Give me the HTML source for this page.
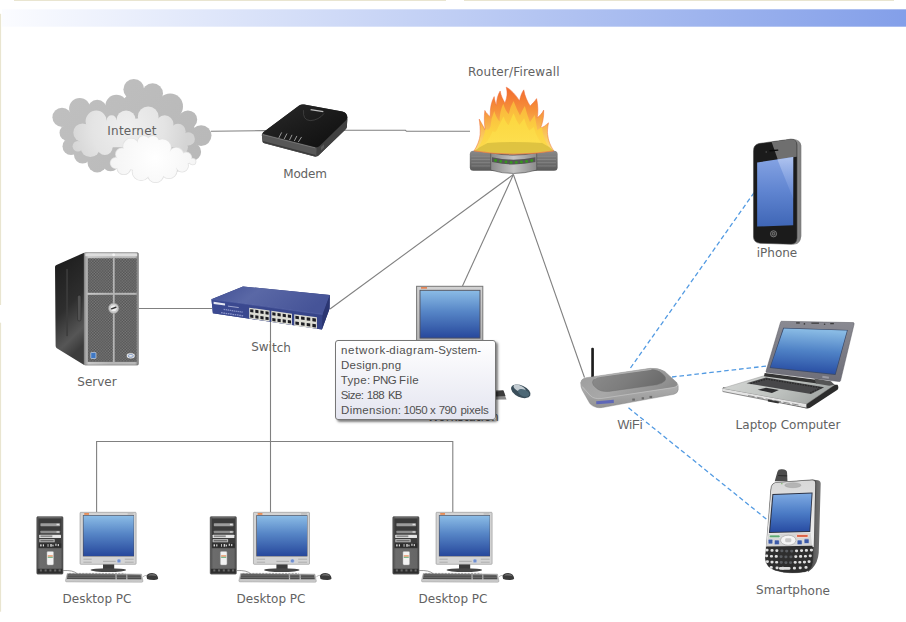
<!DOCTYPE html>
<html lang="en">
<head>
<meta charset="utf-8">
<title>Network Diagram</title>
<style>
html,body{margin:0;padding:0;background:#fff;}
body{width:906px;height:622px;overflow:hidden;position:relative;font-family:"DejaVu Sans","Liberation Sans",sans-serif;}
#stage{position:absolute;left:0;top:0;width:906px;height:622px;overflow:hidden;background:#fff;}
svg{position:absolute;left:0;top:0;}
.lbl{position:absolute;font-size:12px;line-height:14px;height:14px;color:#626262;white-space:nowrap;transform:translateX(-50%);text-align:center;}
#tip{position:absolute;left:335px;top:340px;width:159px;height:78px;border:1px solid #767676;border-radius:3px;background:linear-gradient(#ffffff,#e4e5f0);box-shadow:2px 2px 2.5px rgba(0,0,0,.5);font-family:"Liberation Sans",sans-serif;font-size:11.5px;color:#505050;}
#tip div{position:absolute;left:0;white-space:nowrap;line-height:15px;height:15px;width:159px;}
#tip span{white-space:nowrap;}
</style>
</head>
<body>
<div id="stage">
<svg id="art" width="906" height="622" viewBox="0 0 906 622" style="filter:blur(0.4px)">
<defs>
<linearGradient id="bar" x1="0" x2="1" y1="0" y2="0"><stop offset="0" stop-color="#fbfcff"/><stop offset="1" stop-color="#839fe9"/></linearGradient>
<g id="cloudF"><circle cx="115.9" cy="163.0" r="5.3"/><circle cx="121.9" cy="154.2" r="6.0"/><circle cx="131.1" cy="146.5" r="7.9"/><circle cx="143.7" cy="141.9" r="6.0"/><circle cx="153.0" cy="141.9" r="6.0"/><circle cx="162.3" cy="147.8" r="8.6"/><circle cx="176.2" cy="155.1" r="7.3"/><circle cx="186.1" cy="157.7" r="5.3"/><circle cx="192.7" cy="161.6" r="2.9"/><circle cx="182.1" cy="165.7" r="6.0"/><circle cx="168.9" cy="170.3" r="7.9"/><circle cx="155.6" cy="174.3" r="7.9"/><circle cx="141.1" cy="171.7" r="8.6"/><circle cx="123.8" cy="167.7" r="6.6"/><polygon points="115.9,163.0 121.9,154.2 131.1,146.5 143.7,141.9 153.0,141.9 162.3,147.8 176.2,155.1 186.1,157.7 192.7,161.6 182.1,165.7 168.9,170.3 155.6,174.3 141.1,171.7 123.8,167.7"/></g>
<radialGradient id="clMid" gradientUnits="userSpaceOnUse" cx="128" cy="128" r="60"><stop offset="0" stop-color="#efefef"/><stop offset="0.6" stop-color="#e4e4e4"/><stop offset="1" stop-color="#d4d4d4"/></radialGradient>
<radialGradient id="clFr" gradientUnits="userSpaceOnUse" cx="155" cy="158" r="50"><stop offset="0" stop-color="#ffffff"/><stop offset="1" stop-color="#f3f3f3"/></radialGradient>
<linearGradient id="clBk" gradientUnits="userSpaceOnUse" x1="50" y1="80" x2="210" y2="180"><stop offset="0" stop-color="#c0c0c0"/><stop offset="1" stop-color="#b8b8b8"/></linearGradient>
<linearGradient id="mdTop" x1="0" y1="0" x2="1" y2="1"><stop offset="0" stop-color="#2a2a2a"/><stop offset="0.5" stop-color="#1b1b1b"/><stop offset="1" stop-color="#0e0e0e"/></linearGradient>
<linearGradient id="mdFr" x1="0" y1="0" x2="0" y2="1"><stop offset="0" stop-color="#757575"/><stop offset="0.35" stop-color="#5a5a5a"/><stop offset="1" stop-color="#444"/></linearGradient>
<linearGradient id="flA" x1="0" y1="0" x2="0" y2="1"><stop offset="0" stop-color="#f26a2e"/><stop offset="0.35" stop-color="#f6923a"/><stop offset="0.6" stop-color="#f9b850"/><stop offset="0.8" stop-color="#fbd166"/><stop offset="1" stop-color="#fce080"/></linearGradient>
<linearGradient id="flB" x1="0" y1="0" x2="0" y2="1"><stop offset="0" stop-color="#f9b13a"/><stop offset="0.6" stop-color="#fcd342"/><stop offset="1" stop-color="#fddc50"/></linearGradient>
<linearGradient id="flC" x1="0" y1="0" x2="0" y2="1"><stop offset="0" stop-color="#fcd63e"/><stop offset="1" stop-color="#fde152"/></linearGradient>
<linearGradient id="rtSide" x1="0" y1="0" x2="0" y2="1"><stop offset="0" stop-color="#8a8a8a"/><stop offset="0.5" stop-color="#707070"/><stop offset="1" stop-color="#5a5a5a"/></linearGradient>
<linearGradient id="rtMid" x1="0" y1="0" x2="1" y2="0"><stop offset="0" stop-color="#8a8a8a"/><stop offset="0.5" stop-color="#c4c4c4"/><stop offset="1" stop-color="#8a8a8a"/></linearGradient>
<linearGradient id="ipScr" x1="0" y1="0" x2="0" y2="1"><stop offset="0" stop-color="#86a4e4"/><stop offset="0.5" stop-color="#5f84d0"/><stop offset="1" stop-color="#3f66b6"/></linearGradient>
<linearGradient id="ipSide" x1="0" y1="0" x2="1" y2="0"><stop offset="0" stop-color="#3a3a3a"/><stop offset="0.55" stop-color="#3a3a3a"/><stop offset="0.7" stop-color="#b4b4b4"/><stop offset="1" stop-color="#7a7a7a"/></linearGradient>
<linearGradient id="ipGl" x1="0" y1="0" x2="0" y2="1"><stop offset="0" stop-color="#b9cbf2"/><stop offset="1" stop-color="#7d9ce0" stop-opacity="0.3"/></linearGradient>
<linearGradient id="svSide" x1="0" y1="0" x2="0.25" y2="1"><stop offset="0" stop-color="#1a1a1a"/><stop offset="0.55" stop-color="#2e2e2e"/><stop offset="0.85" stop-color="#565656"/><stop offset="1" stop-color="#3c3c3c"/></linearGradient>
<linearGradient id="svFrame" x1="0" y1="0" x2="1" y2="0"><stop offset="0" stop-color="#8e8e8e"/><stop offset="0.08" stop-color="#c8c8c8"/><stop offset="0.5" stop-color="#b4b4b4"/><stop offset="0.94" stop-color="#b8b8b8"/><stop offset="1" stop-color="#7c7c7c"/></linearGradient>
<pattern id="svMesh" width="14" height="14" patternUnits="userSpaceOnUse"><rect width="14" height="14" fill="#505050"/><rect width="7" height="7" fill="#7c7c7c"/><rect x="7" y="7" width="7" height="7" fill="#7c7c7c"/></pattern>
<linearGradient id="swTop" x1="0" y1="0" x2="1" y2="0.3"><stop offset="0" stop-color="#414f94"/><stop offset="0.4" stop-color="#5a68a6"/><stop offset="1" stop-color="#465498"/></linearGradient>
<linearGradient id="swFr" x1="0" y1="0" x2="1" y2="0"><stop offset="0" stop-color="#3c4a92"/><stop offset="1" stop-color="#364488"/></linearGradient>
<linearGradient id="scrBlue" x1="0" y1="0" x2="0" y2="1"><stop offset="0" stop-color="#8bbce6"/><stop offset="0.45" stop-color="#5685c6"/><stop offset="1" stop-color="#27489c"/></linearGradient>
<linearGradient id="monFr" x1="0" y1="0" x2="0" y2="1"><stop offset="0" stop-color="#d2d2d2"/><stop offset="1" stop-color="#b2b2b2"/></linearGradient>
<linearGradient id="pcTw" x1="0" y1="0" x2="1" y2="0"><stop offset="0" stop-color="#4a4a4a"/><stop offset="0.12" stop-color="#6c6c6c"/><stop offset="0.9" stop-color="#666"/><stop offset="1" stop-color="#444"/></linearGradient>
<linearGradient id="pcKb" x1="0" y1="0" x2="0" y2="1"><stop offset="0" stop-color="#9a9a9a"/><stop offset="1" stop-color="#d4d4d4"/></linearGradient>
<g id="pc" transform="scale(0.14901)">
<!-- tower -->
<rect x="45" y="78" width="177" height="386" rx="8" fill="url(#pcTw)" stroke="#555" stroke-width="3"/>
<rect x="56" y="90" width="156" height="200" fill="#3b3b3b"/>
<rect x="70" y="122" width="132" height="20" rx="4" fill="#9c9c9c"/>
<rect x="70" y="172" width="132" height="18" rx="4" fill="#8c8c8c"/>
<rect x="178" y="126" width="18" height="10" fill="#e0e0e0"/><rect x="178" y="176" width="18" height="10" fill="#d0d0d0"/>
<rect x="62" y="199" width="146" height="23" rx="4" fill="#e6e6e6"/>
<rect x="70" y="204" width="80" height="12" fill="#8a8a8a"/>
<rect x="62" y="229" width="104" height="21" rx="4" fill="#b4b4b4"/>
<rect x="70" y="234" width="88" height="10" fill="#6e6e6e"/>
<rect x="60" y="258" width="150" height="28" fill="#2c2c2c"/>
<g fill="#d8d8d8"><rect x="68" y="264" width="10" height="14"/><rect x="86" y="264" width="8" height="14"/><rect x="118" y="262" width="6" height="18"/><rect x="136" y="262" width="10" height="18"/><rect x="150" y="266" width="8" height="12"/><rect x="170" y="260" width="8" height="14"/><rect x="186" y="262" width="8" height="14"/></g>
<rect x="114" y="312" width="44" height="90" rx="7" fill="#f2f2f2" stroke="#b0b0b0" stroke-width="3"/>
<rect x="119" y="338" width="34" height="8" fill="#e8824a"/>
<rect x="119" y="348" width="34" height="6" fill="#5aa872"/>
<rect x="50" y="428" width="167" height="32" fill="#2e2e2e"/>
<g fill="#666"><rect x="66" y="432" width="14" height="14"/><rect x="98" y="432" width="14" height="14"/><rect x="130" y="432" width="14" height="14"/><rect x="162" y="432" width="14" height="14"/><rect x="192" y="432" width="14" height="14"/></g>
<!-- cable -->
<path d="M222 440 Q290 436 318 462" fill="none" stroke="#7a7a7a" stroke-width="5"/>
<!-- monitor -->
<rect x="490" y="396" width="75" height="40" fill="#3c3c3c"/>
<ellipse cx="526" cy="437" rx="120" ry="12" fill="#474747"/>
<rect x="336" y="49" width="376" height="349" rx="5" fill="#d4d4d4" stroke="#8e8e8e" stroke-width="4"/>
<rect x="355" y="68" width="343" height="277" fill="#4a4a55"/>
<rect x="359" y="72" width="337" height="270" fill="url(#scrBlue)"/>
<rect x="364" y="55" width="32" height="10" fill="#ea7a38"/>
<rect x="655" y="56" width="40" height="8" fill="#b8b8b8"/>
<circle cx="597" cy="375" r="13" fill="#6f8fd0" stroke="#c8d2ea" stroke-width="3"/>
<path d="M490 378 H575" stroke="#9a9a9a" stroke-width="5"/>
<g fill="#b4b4b4"><rect x="358" y="360" width="56" height="8"/><rect x="358" y="380" width="56" height="8"/><rect x="636" y="360" width="60" height="8"/><rect x="636" y="380" width="60" height="8"/></g>
<!-- keyboard -->
<path d="M250 460 L748 464 L758 510 Q758 518 750 518 L246 516 Q238 516 238 508 Z" fill="url(#pcKb)" stroke="#8a8a8a" stroke-width="3"/>
<path d="M254 464 L572 467 L574 498 L248 496 Z" fill="#4c4c4c"/>
<path d="M582 468 L644 468 L646 498 L582 498 Z" fill="#4c4c4c"/>
<path d="M654 468 L742 469 L748 498 L654 498 Z" fill="#4c4c4c"/>
<g stroke="#8f8f8f" stroke-width="3"><path d="M252 475 H745M250 486 H746"/></g>
<g stroke="#777" stroke-width="4" stroke-dasharray="14 8"><path d="M262 459 H640"/></g>
<!-- mouse -->
<path d="M758 482 Q770 470 788 472" fill="none" stroke="#8a8a8a" stroke-width="4"/>
<path d="M782 480 Q784 456 820 456 Q856 458 860 492 Q858 504 830 503 Q800 502 786 496 Z" fill="#3a3a3a"/>
<path d="M792 474 Q800 462 822 462 Q842 464 850 478 Q824 470 792 474 Z" fill="#6a6a6a"/>
</g>
<linearGradient id="wfAnt" x1="0" y1="0" x2="1" y2="0"><stop offset="0" stop-color="#555"/><stop offset="0.5" stop-color="#1c1c1c"/><stop offset="1" stop-color="#3a3a3a"/></linearGradient>
<linearGradient id="wfTop" x1="0" y1="0" x2="1" y2="0.4"><stop offset="0" stop-color="#9c9c9c"/><stop offset="0.5" stop-color="#a8a8a8"/><stop offset="1" stop-color="#8c8c8c"/></linearGradient>
<linearGradient id="wfIn" x1="0" y1="0" x2="1" y2="0.3"><stop offset="0" stop-color="#8c8c8c"/><stop offset="0.6" stop-color="#7c7c7c"/><stop offset="1" stop-color="#6c6c6c"/></linearGradient>
<linearGradient id="wfFr" x1="0" y1="0" x2="0" y2="1"><stop offset="0" stop-color="#c6c6c6"/><stop offset="1" stop-color="#939393"/></linearGradient>
<linearGradient id="lpLid" x1="0" y1="0" x2="0" y2="1"><stop offset="0" stop-color="#8a8a92"/><stop offset="1" stop-color="#6e6e78"/></linearGradient>
<linearGradient id="lpBase" x1="0" y1="0" x2="1" y2="0.3"><stop offset="0" stop-color="#d6d8d6"/><stop offset="0.6" stop-color="#bfc3c0"/><stop offset="1" stop-color="#a4a8a6"/></linearGradient>
<linearGradient id="lpScr" x1="0.1" y1="0" x2="0" y2="1"><stop offset="0" stop-color="#88bae4"/><stop offset="0.45" stop-color="#4f82c6"/><stop offset="1" stop-color="#23469e"/></linearGradient>
<linearGradient id="spScr" x1="0" y1="0" x2="0" y2="1"><stop offset="0" stop-color="#7eaae2"/><stop offset="0.5" stop-color="#4c7cc6"/><stop offset="1" stop-color="#274ba2"/></linearGradient>
<linearGradient id="spTop" x1="0" y1="0" x2="0" y2="1"><stop offset="0" stop-color="#d8d8d8"/><stop offset="1" stop-color="#f2f2f2"/></linearGradient>
<linearGradient id="spSide" x1="0" y1="0" x2="1" y2="0"><stop offset="0" stop-color="#444"/><stop offset="1" stop-color="#787878"/></linearGradient>

</defs>
<!-- frame bits -->
<rect x="2" y="9.3" width="904" height="17.4" fill="url(#bar)"/>
<rect x="14" y="0" width="432" height="1" fill="#e9e5d0"/>
<rect x="464" y="0" width="430" height="1" fill="#e9e5d0"/>
<rect x="0" y="13.8" width="1.1" height="291.2" fill="#e9e5d0"/>
<rect x="0" y="322.7" width="1.1" height="289" fill="#e9e5d0"/>
<!-- connectors -->
<g id="wires" fill="none" stroke="#808080" stroke-width="1.1">
<path d="M211 131.3 L266 130.6"/>
<path d="M343 130.3 H405.5 L406.5 131.3 H470"/>
<path d="M513.4 174.5 L330 309"/>
<path d="M513.4 174.5 L462.5 286"/>
<path d="M513.4 174.5 L584.5 377.5"/>
<path d="M139 308.5 H212"/>
<path d="M270.5 322 V512"/>
<path d="M96.6 512 V441.5 H452.8 V512"/>
</g>
<g id="air" fill="none" stroke="#529ae2" stroke-width="1.3" stroke-dasharray="4.6 2.9">
<path d="M630.5 368 L754.5 192"/>
<path d="M672 377 L767 366"/>
<path d="M628.5 407.8 L767.5 520"/>
</g>
<g id="cloud">
<g fill="url(#clBk)"><circle cx="62.0" cy="117.3" r="9.6"/><circle cx="79.7" cy="108.6" r="10.6"/><circle cx="97.2" cy="109.5" r="9.7"/><circle cx="116.4" cy="105.8" r="11.0"/><circle cx="133.8" cy="89.4" r="10.4"/><circle cx="152.6" cy="93.6" r="10.4"/><circle cx="170.2" cy="106.4" r="12.8"/><circle cx="187.9" cy="119.7" r="9.3"/><circle cx="201.1" cy="135.6" r="10.4"/><circle cx="192.3" cy="151.7" r="8.8"/><circle cx="176.9" cy="162.7" r="8.8"/><circle cx="110.6" cy="162.7" r="8.6"/><circle cx="97.2" cy="162.7" r="9.7"/><circle cx="82.6" cy="155.0" r="8.6"/><circle cx="71.1" cy="146.4" r="8.6"/><circle cx="67.2" cy="132.7" r="7.7"/><polygon points="62.0,117.3 79.7,108.6 97.2,109.5 116.4,105.8 133.8,89.4 152.6,93.6 170.2,106.4 187.9,119.7 201.1,135.6 192.3,151.7 176.9,162.7 110.6,162.7 97.2,162.7 82.6,155.0 71.1,146.4 67.2,132.7"/></g>
<g fill="url(#clMid)"><circle cx="82.6" cy="132.7" r="9.3"/><circle cx="96.2" cy="121.2" r="10.6"/><circle cx="111.6" cy="120.2" r="4.9"/><circle cx="126.1" cy="120.2" r="9.7"/><circle cx="148.2" cy="116.8" r="10.4"/><circle cx="164.7" cy="124.1" r="8.8"/><circle cx="178.0" cy="131.4" r="7.7"/><circle cx="188.3" cy="138.9" r="6.6"/><circle cx="181.3" cy="147.3" r="6.6"/><circle cx="104.9" cy="147.3" r="7.7"/><circle cx="90.3" cy="147.3" r="9.7"/><circle cx="77.8" cy="146.3" r="5.2"/><polygon points="82.6,132.7 96.2,121.2 111.6,120.2 126.1,120.2 148.2,116.8 164.7,124.1 178.0,131.4 188.3,138.9 181.3,147.3 104.9,147.3 90.3,147.3 77.8,146.3"/></g>
<use href="#cloudF" fill="#e2e2e2" stroke="#e2e2e2" stroke-width="1.6"/>
<use href="#cloudF" fill="url(#clFr)"/>
</g>
<g id="modem" transform="translate(255 98) scale(0.11038)">
<path d="M62 335 Q60 320 78 308 L400 68 Q420 54 445 60 L790 122 Q835 132 838 175 L832 262 Q830 275 815 290 L575 522 Q560 535 540 530 L85 410 Q70 405 68 390 Z" fill="#3c3c3c"/>
<path d="M62 335 Q60 322 80 326 L545 445 Q560 450 560 465 L558 520 Q556 534 540 530 L85 410 Q70 405 68 390 Z" fill="#575757"/>
<path d="M72 332 L545 452" stroke="#7c7c7c" stroke-width="7" fill="none"/>
<path d="M70 395 L548 522" stroke="#3a3a3a" stroke-width="10" fill="none"/>
<path d="M560 462 L836 190 L832 262 Q830 275 815 290 L575 522 Q562 533 558 520 Z" fill="#414141"/>
<path d="M78 308 L400 68 Q420 54 445 60 L790 122 Q835 132 836 178 Q835 190 822 204 L585 435 Q565 452 540 445 L85 328 Q60 322 78 308 Z" fill="url(#mdTop)"/>
<path d="M440 110 Q430 200 500 205 Q580 200 625 140" fill="none" stroke="#4a4a4a" stroke-width="6"/>
<g stroke="#9a9a9a" stroke-width="9" stroke-linecap="round"><path d="M240 315 L218 358"/><path d="M288 325 L266 368"/><path d="M334 337 L314 378"/><path d="M378 347 L358 386"/><path d="M420 356 L394 396"/></g>
<path d="M505 100 L620 118 L618 130 L502 112 Z" fill="#bdbdbd"/>
<path d="M598 445 L625 420 L625 450 L598 476 Z" fill="#5a5a5a"/>
</g>
<g id="router" transform="translate(465 82) scale(0.16077)">
<!-- body -->
<rect x="30" y="428" width="546" height="124" rx="22" fill="url(#rtSide)"/>
<g stroke="#909090" stroke-width="4"><path d="M40 462H160M40 482H160M40 502H160M40 522H160M446 462H566M446 482H566M446 502H566M446 522H566"/></g>
<path d="M160 440 Q300 470 446 440 L446 548 Q300 590 160 548 Z" fill="url(#rtMid)" stroke="#4e4e4e" stroke-width="4"/>
<path d="M168 468 Q300 498 438 468 L438 498 Q300 528 168 498 Z" fill="#555"/>
<g fill="#35961f"><circle cx="190" cy="488" r="9"/><circle cx="222" cy="494" r="9"/><circle cx="255" cy="498" r="9"/><circle cx="287" cy="500" r="9"/><circle cx="319" cy="500" r="9"/><circle cx="351" cy="498" r="9"/><circle cx="383" cy="494" r="9"/><circle cx="415" cy="488" r="9"/></g>
<!-- flame -->
<path d="M55.6 428.8 C75 400 92 360 94 327 C96 290 92 260 88.5 230.7 C100 255 115 275 125.6 299.3 C120 260 118 215 123.5 176.9 C132 195 145 205 157 215.4 C155 170 162 125 181.5 90.8 C184 115 190 132 195.5 145.4 C196 110 204 80 218.6 55.8 C224 85 236 110 248 130 C262 100 266 65 256.4 32 C285 45 320 85 339 117.4 C345 90 352 68 365.6 48.8 C372 90 390 125 405.4 148.9 C420 135 435 120 445.3 103.4 C455 145 455 190 449.5 222.4 C465 210 480 195 489.4 174.8 C492 215 482 260 468.4 288.8 C488 280 505 268 519.5 253.8 C512 290 512 310 514 327 C518 365 530 395 552.4 428.8 Q300 470 55.6 428.8 Z" fill="url(#flA)" stroke="#ee6a3a" stroke-width="3"/>
<path d="M75 422 Q120 350 128 290 Q145 310 158 280 Q162 225 182 180 Q195 225 215 245 Q215 185 238 135 Q252 180 272 200 Q282 150 302 118 Q322 170 342 208 Q356 178 372 150 Q388 210 404 250 Q418 228 434 205 Q444 268 450 300 Q464 290 478 278 Q486 365 535 422 Q300 462 75 422 Z" fill="url(#flB)"/>
<path d="M95 420 Q150 365 172 305 Q190 325 206 282 Q222 250 240 215 Q255 258 272 268 Q287 228 302 195 Q318 240 338 268 Q352 248 368 225 Q384 280 400 302 Q414 292 428 280 Q448 365 510 420 Q300 458 95 420 Z" fill="url(#flC)"/>
<!-- top of router (seen through flame) -->
<path d="M58 428 Q100 400 140 380 Q300 366 480 380 Q520 400 552 428 Q300 468 58 428 Z" fill="#d4b93c" opacity="0.75"/>
<path d="M58 428 Q300 468 552 428" fill="none" stroke="#e8743a" stroke-width="3"/>
</g>
<g id="iphone" transform="translate(745 132) scale(0.19283)">
<path d="M70 62 L245 36 Q285 34 292 70 L292 540 Q288 580 255 584 L240 584 L240 60 Z" fill="url(#ipSide)"/>
<path d="M72 60 L238 37 Q268 36 270 66 L270 550 Q268 582 238 582 L78 577 Q45 574 44 545 L44 98 Q44 66 72 60 Z" fill="#1b1b1b" stroke="#4a4a4a" stroke-width="3"/>
<path d="M138 52 L238 38 Q266 37 268 66 L268 128 L170 143 Z" fill="#6f6f6f"/>
<path d="M63 158 L250 130 L250 483 L63 490 Z" fill="url(#ipScr)"/>
<path d="M168 143 L250 130 L250 345 Z" fill="url(#ipGl)" opacity="0.8"/>
<path d="M130 97 L170 94" stroke="#0a0a0a" stroke-width="7" stroke-linecap="round"/>
<circle cx="110" cy="104" r="4" fill="#555"/>
<circle cx="148" cy="528" r="16" fill="#2a2a2a" stroke="#8c8c8c" stroke-width="4"/>
<rect x="142" y="522" width="12" height="12" rx="2" fill="none" stroke="#b5b5b5" stroke-width="2.5"/>
</g>
<g id="server" transform="translate(50 245) scale(0.20084)">
<path d="M25 108 Q25 102 32 99 L170 38 L170 598 L34 514 Q28 510 28 502 Z" fill="url(#svSide)"/>
<path d="M85 122 V450" stroke="#3c3c3c" stroke-width="8" stroke-linecap="round"/>
<rect x="137" y="250" width="17" height="128" rx="8" fill="#525252" stroke="#222" stroke-width="2"/>
<rect x="170" y="38" width="270" height="560" rx="6" fill="url(#svFrame)" stroke="#6a6a6a" stroke-width="3"/>
<rect x="176" y="42" width="258" height="14" fill="#dedede"/>
<circle cx="317" cy="49" r="7" fill="#f4f4f4"/>
<rect x="188" y="66" width="125" height="172" fill="url(#svMesh)"/>
<rect x="322" y="66" width="110" height="172" fill="url(#svMesh)"/>
<rect x="188" y="248" width="125" height="334" fill="url(#svMesh)"/>
<rect x="322" y="248" width="110" height="334" fill="url(#svMesh)"/>
<circle cx="317" cy="315" r="26" fill="#c9c9c9" stroke="#8a8a8a" stroke-width="3"/>
<circle cx="317" cy="315" r="15" fill="#f0f0f0"/>
<path d="M306 318 L328 310" stroke="#333" stroke-width="7" stroke-linecap="round"/>
<rect x="203" y="535" width="26" height="30" rx="3" fill="#3f78c4" stroke="#dfe8f5" stroke-width="3"/>
<ellipse cx="402" cy="552" rx="22" ry="15" fill="#e9e9e9" stroke="#555" stroke-width="3"/>
<ellipse cx="402" cy="552" rx="13" ry="7" fill="none" stroke="#4a6fb0" stroke-width="3"/>
</g>
<g id="switch" transform="translate(205 280) scale(0.14349)">
<path d="M45 135 L265 45 L870 105 L868 200 L815 345 L55 232 Z" fill="#2d3978"/>
<path d="M45 135 L265 45 L870 105 L820 240 Z" fill="url(#swTop)"/>
<path d="M45 135 L820 240 L815 345 L55 232 Z" fill="url(#swFr)"/>
<path d="M820 240 L870 105 L868 200 L815 345 Z" fill="#2b3672"/>
<path d="M45 135 L820 240" stroke="#6a78b8" stroke-width="3"/>
<polygon points="308.0,193.0 450.0,212.9 450.0,288.9 308.0,269.0" fill="#dcdcd4"/><polygon points="315.1,203.1 337.1,206.2 337.1,226.7 315.1,223.6" fill="#1c1c22"/><polygon points="350.6,208.1 372.6,211.2 372.6,231.7 350.6,228.6" fill="#1c1c22"/><polygon points="386.1,213.1 408.1,216.1 408.1,236.7 386.1,233.6" fill="#1c1c22"/><polygon points="421.6,218.0 443.6,221.1 443.6,241.6 421.6,238.5" fill="#1c1c22"/><polygon points="315.1,241.1 337.1,244.2 337.1,264.7 315.1,261.6" fill="#1c1c22"/><polygon points="350.6,246.1 372.6,249.2 372.6,269.7 350.6,266.6" fill="#1c1c22"/><polygon points="386.1,251.1 408.1,254.1 408.1,274.7 386.1,271.6" fill="#1c1c22"/><polygon points="421.6,256.0 443.6,259.1 443.6,279.6 421.6,276.5" fill="#1c1c22"/><polygon points="462.0,215.0 606.0,235.2 606.0,313.2 462.0,293.0" fill="#dcdcd4"/><polygon points="469.2,225.4 491.5,228.5 491.5,249.6 469.2,246.4" fill="#1c1c22"/><polygon points="505.2,230.4 527.5,233.5 527.5,254.6 505.2,251.5" fill="#1c1c22"/><polygon points="541.2,235.4 563.5,238.6 563.5,259.6 541.2,256.5" fill="#1c1c22"/><polygon points="577.2,240.5 599.5,243.6 599.5,264.7 577.2,261.5" fill="#1c1c22"/><polygon points="469.2,264.4 491.5,267.5 491.5,288.6 469.2,285.4" fill="#1c1c22"/><polygon points="505.2,269.4 527.5,272.5 527.5,293.6 505.2,290.5" fill="#1c1c22"/><polygon points="541.2,274.4 563.5,277.6 563.5,298.6 541.2,295.5" fill="#1c1c22"/><polygon points="577.2,279.5 599.5,282.6 599.5,303.7 577.2,300.5" fill="#1c1c22"/><polygon points="622.0,238.0 780.0,260.1 780.0,340.1 622.0,318.0" fill="#dcdcd4"/><polygon points="629.9,248.7 654.4,252.1 654.4,273.7 629.9,270.3" fill="#1c1c22"/><polygon points="669.4,254.2 693.9,257.7 693.9,279.3 669.4,275.8" fill="#1c1c22"/><polygon points="708.9,259.8 733.4,263.2 733.4,284.8 708.9,281.4" fill="#1c1c22"/><polygon points="748.4,265.3 772.9,268.7 772.9,290.3 748.4,286.9" fill="#1c1c22"/><polygon points="629.9,288.7 654.4,292.1 654.4,313.7 629.9,310.3" fill="#1c1c22"/><polygon points="669.4,294.2 693.9,297.7 693.9,319.3 669.4,315.8" fill="#1c1c22"/><polygon points="708.9,299.8 733.4,303.2 733.4,324.8 708.9,321.4" fill="#1c1c22"/><polygon points="748.4,305.3 772.9,308.7 772.9,330.3 748.4,326.9" fill="#1c1c22"/><path d="M60 152 L140 163 L140 178 L60 167 Z" fill="#e4e6f2"/>
<path d="M160 182 L235 192" stroke="#c5cae6" stroke-width="5"/>
<path d="M130 205 L262 224" stroke="#8f99cc" stroke-width="9" stroke-dasharray="9 5"/>
<path d="M112 228 L268 250" stroke="#8f99cc" stroke-width="9" stroke-dasharray="11 5"/>
</g>
<g id="workstation">
<rect x="416.6" y="286.3" width="66.2" height="60" fill="url(#monFr)" stroke="#777" stroke-width="1"/>
<rect x="420" y="290.3" width="60" height="47.8" fill="url(#scrBlue)" stroke="#50505c" stroke-width="0.9"/>
<rect x="421" y="287.2" width="6" height="1.4" fill="#e8743a"/>
<!-- stand/keyboard hidden behind tooltip, bits peek out at right -->
<path d="M430 392 L503 390 L506.5 399.5 L428 400 Z" fill="#8a8a8a"/>
<path d="M496 391.5 L503.5 390.5 L505.5 396 L496 396.5 Z" fill="#3c3c3c"/>
<g transform="translate(521 390.8) rotate(24)">
<ellipse cx="0" cy="0.6" rx="10.4" ry="5.8" fill="#3a4e5a"/>
<ellipse cx="-2.2" cy="-1.6" rx="6.6" ry="3" fill="#c4cdd3"/>
<ellipse cx="3.2" cy="0.8" rx="6" ry="3.4" fill="#4d6876"/>
</g>
</g>
<g id="desktops">
<use href="#pc" transform="translate(30 505)"/>
<use href="#pc" transform="translate(203.4 505)"/>
<use href="#pc" transform="translate(386 505)"/>
</g>
<g id="wifi" transform="translate(572 340) scale(0.13245)">
<rect x="144" y="58" width="22" height="225" rx="9" fill="url(#wfAnt)"/>
<path d="M66 322 Q68 296 100 286 L590 214 Q650 208 700 238 L790 320 Q806 340 802 375 Q800 400 770 410 L230 510 Q170 518 135 480 L78 380 Q64 350 66 322 Z" fill="url(#wfFr)" stroke="#7a7a7a" stroke-width="3"/>
<path d="M66 322 Q68 296 100 286 L590 214 Q650 208 700 238 L790 320 Q808 345 770 356 L220 440 Q170 446 140 420 L78 350 Q66 336 66 322 Z" fill="url(#wfTop)"/>
<path d="M155 318 Q160 290 200 280 L590 224 Q640 220 680 252 Q720 285 700 310 Q680 330 640 338 L280 388 Q220 394 185 365 Q152 340 155 318 Z" fill="url(#wfIn)" stroke="#6a6a6a" stroke-width="3"/>
<path d="M170 292 Q190 278 220 275 L600 222" fill="none" stroke="#d4d4d4" stroke-width="4"/>
<path d="M78 352 L140 422 Q170 448 220 442 L770 358 Q800 350 802 335" fill="none" stroke="#d0d0d0" stroke-width="4"/>
<path d="M182 462 L315 452 L316 476 L184 486 Z" fill="#4a55c0" opacity="0.75"/>
<g fill="#6a6a6a"><rect x="455" y="442" width="20" height="16"/><rect x="526" y="432" width="18" height="16"/><rect x="585" y="422" width="20" height="16"/></g>
</g>
<g id="laptop" transform="translate(715 312) scale(0.16556)">
<!-- underside / right side -->
<path d="M44 474 L540 578 Q556 588 574 578 L740 470 Q750 456 740 440 L720 440 L550 545 L50 455 Z" fill="#2c2c2c"/>
<!-- base -->
<path d="M42 462 L300 384 L722 440 L552 556 Z" fill="url(#lpBase)" stroke="#9a9a9a" stroke-width="3"/>
<path d="M42 462 L552 556 L552 580 L46 480 Z" fill="#e4e4e4"/>
<path d="M46 480 L552 580" stroke="#555" stroke-width="4"/>
<path d="M200 505 L520 565" stroke="#8a8a8a" stroke-width="6" stroke-dasharray="40 14"/>
<path d="M320 534 L385 547" stroke="#333" stroke-width="12"/>
<path d="M190 430 L308 396 L660 455 L580 496 Z" fill="#474749"/>
<path d="M215 432 L312 405 L640 458 L575 488" fill="none" stroke="#2a2a2a" stroke-width="8" stroke-dasharray="10 6"/>
<path d="M258 470 L308 458 L386 471 L344 489 Z" fill="#2e2e30"/>
<!-- hinge -->
<path d="M300 368 L622 410 L618 432 L296 388 Z" fill="#333"/>
<path d="M600 402 L700 418 L722 440 L690 446 L610 432 Z" fill="#555"/>
<!-- lid -->
<path d="M402 56 L836 64 Q842 66 840 74 L758 416 Q756 422 748 420 L312 366 Q306 364 308 358 L396 62 Q398 56 402 56 Z" fill="url(#lpLid)" stroke="#5a5a62" stroke-width="3"/>
<path d="M412 95 L802 108 L728 380 L330 338 Z" fill="#3a4a6a"/>
<path d="M416 99 L797 112 L725 375 L335 334 Z" fill="url(#lpScr)"/>
<g fill="#3c3c3c"><rect x="490" y="62" width="22" height="8"/><circle cx="540" cy="72" r="5"/><rect x="582" y="64" width="46" height="7"/><circle cx="662" cy="74" r="5"/><rect x="696" y="66" width="22" height="8"/></g>
<rect x="648" y="388" width="40" height="12" fill="#9a9aa4" transform="rotate(8 668 394)"/>
</g>
<g id="smartphone" transform="translate(750 462) scale(0.19313)">
<path d="M128 100 L142 50 Q146 36 166 38 Q192 40 192 56 L194 100 Z" fill="#4c4c4c"/>
<path d="M146 70 L192 72" stroke="#2e2e2e" stroke-width="6"/>
<path d="M330 92 L352 94 Q368 98 366 116 L356 470 Q352 520 322 552 L300 570 Z" fill="url(#spSide)"/>
<path d="M138 106 L325 92 Q342 92 342 112 L326 520 Q322 560 285 568 Q200 582 130 560 Q82 545 80 500 L108 140 Q110 108 138 106 Z" fill="#303030" stroke="#555" stroke-width="3"/>
<path d="M138 108 L322 95 Q338 95 338 112 L330 440 L84 440 L110 140 Q112 110 138 108 Z" fill="url(#spTop)"/>
<ellipse cx="222" cy="120" rx="42" ry="13" fill="#b4b4b4" stroke="#999" stroke-width="2"/>
<circle cx="165" cy="112" r="3" fill="#5fae48"/>
<path d="M116 166 L324 158 L312 362 L98 368 Z" fill="#2c3244"/>
<path d="M121 171 L319 163 L308 357 L104 363 Z" fill="url(#spScr)"/>
<!-- button row -->
<path d="M94 372 L314 366 L322 436 L86 440 Z" fill="#d4d4d4"/>
<rect x="100" y="378" width="56" height="14" rx="7" fill="#5fa873" stroke="#fff" stroke-width="3"/>
<rect x="240" y="376" width="62" height="14" rx="7" fill="#d8593c" stroke="#fff" stroke-width="3"/>
<ellipse cx="198" cy="405" rx="40" ry="26" fill="#f4f4f4" stroke="#9a9a9a" stroke-width="3"/>
<rect x="182" y="395" width="32" height="20" rx="6" fill="#c8c8c8"/>
<g fill="#3c5aa8" stroke="#e8e8e8" stroke-width="3"><rect x="94" y="400" width="24" height="24" rx="5"/><rect x="126" y="404" width="26" height="24" rx="5"/><rect x="244" y="404" width="26" height="24" rx="5"/><rect x="280" y="398" width="26" height="24" rx="5"/></g>
<!-- keyboard -->
<path d="M84 438 L324 434 L322 520 Q318 560 285 568 Q200 582 130 560 Q82 545 80 500 Z" fill="#2e2e2e"/>
<rect x="80" y="449" width="16" height="14" rx="6" fill="#dedede"/><rect x="106" y="451" width="16" height="14" rx="6" fill="#dedede"/><rect x="131" y="452" width="16" height="14" rx="6" fill="#dedede"/><rect x="157" y="453" width="16" height="14" rx="6" fill="#5a5d61"/><rect x="182" y="454" width="16" height="14" rx="6" fill="#5a5d61"/><rect x="208" y="454" width="16" height="14" rx="6" fill="#5a5d61"/><rect x="233" y="453" width="16" height="14" rx="6" fill="#dedede"/><rect x="259" y="452" width="16" height="14" rx="6" fill="#dedede"/><rect x="284" y="451" width="16" height="14" rx="6" fill="#dedede"/><rect x="310" y="449" width="16" height="14" rx="6" fill="#dedede"/><rect x="78" y="479" width="16" height="14" rx="6" fill="#dedede"/><rect x="103" y="481" width="16" height="14" rx="6" fill="#dedede"/><rect x="128" y="482" width="16" height="14" rx="6" fill="#dedede"/><rect x="153" y="483" width="16" height="14" rx="6" fill="#5a5d61"/><rect x="178" y="484" width="16" height="14" rx="6" fill="#5a5d61"/><rect x="204" y="484" width="16" height="14" rx="6" fill="#5a5d61"/><rect x="229" y="483" width="16" height="14" rx="6" fill="#dedede"/><rect x="254" y="482" width="16" height="14" rx="6" fill="#dedede"/><rect x="279" y="481" width="16" height="14" rx="6" fill="#dedede"/><rect x="304" y="479" width="16" height="14" rx="6" fill="#dedede"/><rect x="82" y="509" width="16" height="14" rx="6" fill="#dedede"/><rect x="106" y="511" width="16" height="14" rx="6" fill="#dedede"/><rect x="130" y="512" width="16" height="14" rx="6" fill="#dedede"/><rect x="154" y="513" width="16" height="14" rx="6" fill="#5a5d61"/><rect x="178" y="514" width="16" height="14" rx="6" fill="#5a5d61"/><rect x="202" y="514" width="16" height="14" rx="6" fill="#5a5d61"/><rect x="226" y="513" width="16" height="14" rx="6" fill="#dedede"/><rect x="250" y="512" width="16" height="14" rx="6" fill="#dedede"/><rect x="274" y="511" width="16" height="14" rx="6" fill="#dedede"/><rect x="298" y="509" width="16" height="14" rx="6" fill="#dedede"/><rect x="102" y="539" width="16" height="14" rx="6" fill="#dedede"/><rect x="132" y="541" width="16" height="14" rx="6" fill="#dedede"/><rect x="162" y="543" width="16" height="14" rx="6" fill="#dedede"/><rect x="150" y="544" width="60" height="14" rx="6" fill="#dedede"/><rect x="222" y="543" width="16" height="14" rx="6" fill="#dedede"/><rect x="252" y="541" width="16" height="14" rx="6" fill="#dedede"/><rect x="282" y="539" width="16" height="14" rx="6" fill="#dedede"/>
</g>

</svg>
<div class="lbl" style="left:514.3px;top:65px;letter-spacing:0.18px;transform:translate(-50%,-0.2px) rotate(0.02deg)">Router/Firewall</div>
<div class="lbl" style="left:131.8px;top:124px;letter-spacing:0.2px;transform:translate(-50%,0.3px) rotate(0.02deg)">Internet</div>
<div class="lbl" style="left:304.5px;top:167px;letter-spacing:-0.15px;transform:translate(-50%,0.0px) rotate(0.02deg)">Modem</div>
<div class="lbl" style="left:777px;top:246px;transform:translate(-50%,0.4px) rotate(0.02deg)">iPhone</div>
<div class="lbl" style="left:270.5px;top:340px;transform:translate(-50%,0.5px) rotate(0.02deg)">Switch</div>
<div class="lbl" style="left:97px;top:375px;transform:translate(-50%,0.15px) rotate(0.02deg)">Server</div>
<div class="lbl" style="left:462.5px;top:410px;transform:translate(-50%,0.4px) rotate(0.02deg)">Workstation</div>
<div class="lbl" style="left:629.6px;top:418px;font-family:'Liberation Sans',sans-serif;font-size:12.6px;transform:translate(-50%,0.1px) rotate(0.02deg)">WiFi</div>
<div class="lbl" style="left:787.5px;top:418px;transform:translate(-50%,0.0px) rotate(0.02deg)">Laptop Computer</div>
<div class="lbl" style="left:97.1px;top:592px;transform:translate(-50%,-0.1px) rotate(0.02deg)">Desktop PC</div>
<div class="lbl" style="left:270.5px;top:592px;transform:translate(-50%,-0.1px) rotate(0.02deg)">Desktop PC</div>
<div class="lbl" style="left:452.8px;top:592px;transform:translate(-50%,-0.1px) rotate(0.02deg)">Desktop PC</div>
<div class="lbl" style="left:793px;top:583px;transform:translate(-50%,0.5px) rotate(0.02deg)">Smartphone</div>
<div style="position:absolute;left:269.95px;top:340px;width:1.1px;height:15px;background:#808080;opacity:.75"></div>
<div id="tip">
<div style="top:2.1px"><span style="letter-spacing:0.63px;margin-left:5.10px">network-</span><span style="letter-spacing:0.49px;margin-left:-0.95px">diagram-</span><span style="letter-spacing:0.12px;margin-left:-0.41px">System-</span></div>
<div style="top:17.0px"><span style="letter-spacing:0.20px;margin-left:5.10px">Design.png</span></div>
<div style="top:31.7px"><span style="letter-spacing:0.34px;margin-left:4.71px">Type:</span> <span style="letter-spacing:-0.56px;margin-left:-0.93px">PNG</span> <span style="letter-spacing:0.39px;margin-left:-0.26px">File</span></div>
<div style="top:46.8px"><span style="letter-spacing:-0.57px;margin-left:4.71px">Size:</span> <span style="letter-spacing:-0.69px;margin-left:0.19px">188</span> <span style="letter-spacing:-1.04px;margin-left:0.88px">KB</span></div>
<div style="top:61.9px"><span style="letter-spacing:0.27px;margin-left:5.10px">Dimension:</span> <span style="letter-spacing:-0.46px;margin-left:-1.15px">1050</span> <span style="letter-spacing:0.00px;margin-left:-0.45px">x</span> <span style="letter-spacing:-0.59px;margin-left:-0.16px">790</span> <span style="letter-spacing:-0.20px;margin-left:1.08px">pixels</span></div>
</div>
</div>
</body>
</html>
